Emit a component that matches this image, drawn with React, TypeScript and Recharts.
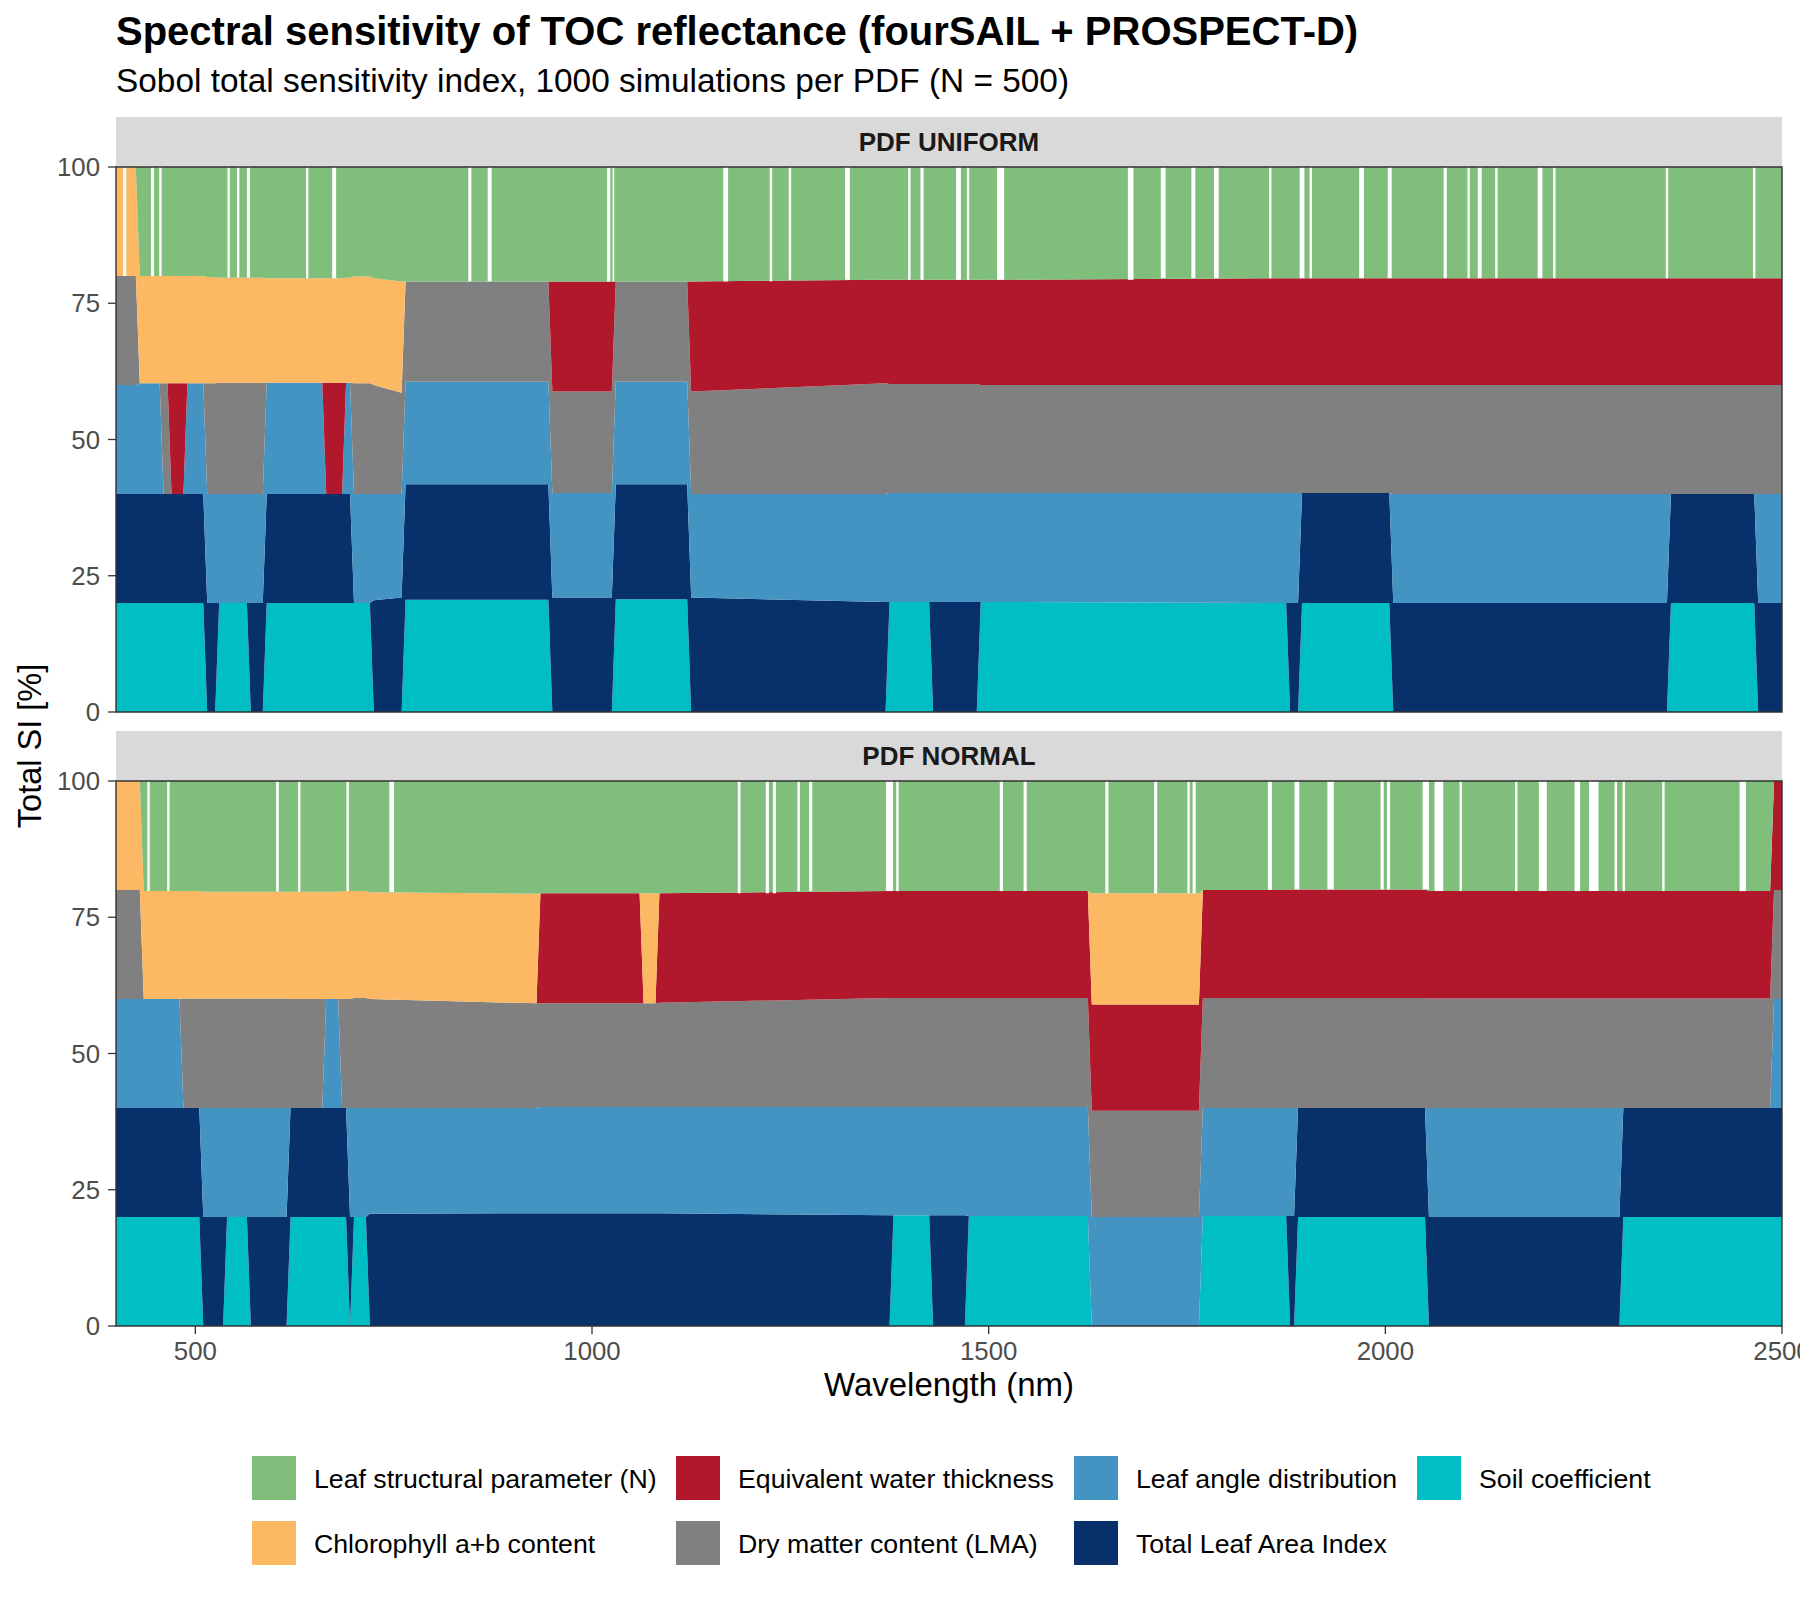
import React from 'react';
import { AreaChart, Area, XAxis, YAxis, ReferenceArea } from 'recharts';

const FONT = '"Liberation Sans", Arial, Helvetica, sans-serif';

// Parameters in stacking order (bottom -> top)
const paramKeys = ['S', 'L', 'A', 'M', 'W', 'C', 'N'];
const paramLabels: Record<string, string> = {
  N: 'Leaf structural parameter (N)',
  W: 'Equivalent water thickness',
  A: 'Leaf angle distribution',
  S: 'Soil coefficient',
  C: 'Chlorophyll a+b content',
  M: 'Dry matter content (LMA)',
  L: 'Total Leaf Area Index',
};
const paramColors: Record<string, string> = {
  N: '#7FBF7B',
  W: '#B2182B',
  A: '#4393C3',
  S: '#00BFC4',
  C: '#FDB863',
  M: '#808080',
  L: '#08306B',
};
const legendRows = [
  ['N', 'W', 'A', 'S'],
  ['C', 'M', 'L'],
];

const xTicks = [500, 1000, 1500, 2000, 2500];
const yTicks = [0, 25, 50, 75, 100];
const panelTitles = ['PDF UNIFORM', 'PDF NORMAL'];

// Each state: [start nm, end nm, five active parameters bottom->top, cumulative band tops at start, (optional) at end]
type State = [number, number, string, number[], number[]?];

const uniformStates: State[] = [
  [400, 425, 'SLAMC', [20, 40, 60, 80]],
  [430, 455, 'SLACN', [20, 40, 60.3, 80]],
  [460, 465, 'SLMCN', [20, 40, 60.3, 80]],
  [470, 485, 'SLWCN', [20, 40, 60.3, 80]],
  [490, 510, 'SLACN', [20, 40, 60.3, 80]],
  [515, 525, 'LAMCN', [20, 40, 60.3, 79.8]],
  [530, 565, 'SAMCN', [20, 40, 60.4, 79.7]],
  [570, 585, 'LAMCN', [20, 40, 60.4, 79.7]],
  [590, 660, 'SLACN', [20, 40, 60.4, 79.6]],
  [665, 685, 'SLWCN', [20, 40, 60.4, 79.6]],
  [690, 695, 'SLACN', [20, 40, 60.4, 79.7]],
  [700, 720, 'SAMCN', [20, 40, 60.3, 79.9]],
  [725, 760, 'LAMCN', [20.5, 40, 60, 79.6], [21, 40, 58.6, 79]],
  [765, 945, 'SLAMN', [20.6, 41.8, 60.6, 79]],
  [950, 1025, 'LAMWN', [21, 40.2, 58.8, 79]],
  [1030, 1120, 'SLAMN', [20.7, 41.8, 60.6, 79]],
  [1125, 1370, 'LAMWN', [21, 40, 58.8, 79], [20.2, 40, 60.3, 79.3]],
  [1375, 1425, 'SAMWN', [20.2, 40.2, 60.2, 79.3]],
  [1430, 1485, 'LAMWN', [20.2, 40.2, 60.2, 79.3]],
  [1490, 1875, 'SAMWN', [20.2, 40.2, 60, 79.3], [20, 40.2, 60, 79.6]],
  [1880, 1890, 'LAMWN', [20, 40.2, 60, 79.6]],
  [1895, 2005, 'SLMWN', [20, 40.2, 60, 79.6]],
  [2010, 2355, 'LAMWN', [20, 40, 60, 79.6]],
  [2360, 2465, 'SLMWN', [20, 40, 60, 79.6]],
  [2470, 2500, 'LAMWN', [20, 40, 60, 79.6]],
];

const normalStates: State[] = [
  [400, 430, 'SLAMC', [20, 40, 60, 80]],
  [435, 480, 'SLACN', [20, 40, 60, 79.8]],
  [485, 505, 'SLMCN', [20, 40, 60.1, 79.8]],
  [510, 535, 'LAMCN', [20, 40, 60.1, 79.7]],
  [540, 565, 'SAMCN', [20, 40, 60.1, 79.7]],
  [570, 615, 'LAMCN', [20, 40, 60.1, 79.7]],
  [620, 660, 'SLMCN', [20, 40, 60, 79.7]],
  [665, 680, 'SLACN', [20, 40, 60, 79.7]],
  [685, 690, 'SLMCN', [20, 40, 60, 79.8]],
  [695, 695, 'LAMCN', [20, 40, 60, 79.8]],
  [700, 715, 'SAMCN', [20, 40, 60.2, 79.8]],
  [720, 930, 'LAMCN', [20.6, 40, 60, 79.6], [20.7, 40, 59.2, 79.3]],
  [935, 1060, 'LAMWN', [20.7, 40.2, 59.2, 79.4]],
  [1065, 1080, 'LAMCN', [20.7, 40.2, 59.2, 79.4]],
  [1085, 1375, 'LAMWN', [20.7, 40.2, 59.3, 79.4], [20.3, 40.2, 60.2, 79.8]],
  [1380, 1425, 'SAMWN', [20.3, 40.2, 60.2, 79.8]],
  [1430, 1470, 'LAMWN', [20.3, 40.2, 60.2, 79.8]],
  [1475, 1625, 'SAMWN', [20.2, 40.2, 60.2, 79.8]],
  [1630, 1765, 'AMWCN', [20, 39.5, 59, 79.4]],
  [1770, 1875, 'SAMWN', [20.2, 40, 60.2, 80]],
  [1880, 1885, 'LAMWN', [20.2, 40, 60.2, 80.1]],
  [1890, 2050, 'SLMWN', [20, 40, 60.2, 80.1]],
  [2055, 2295, 'LAMWN', [20, 40, 60.1, 79.8]],
  [2300, 2485, 'SLMWN', [20, 40, 60.1, 79.8]],
  [2490, 2500, 'SLAMW', [20, 40, 60, 80]],
];

// White gaps in the top band: [centre nm, width nm]
const uniformGaps: [number, number][] = [
  [411, 4], [446, 4], [456, 3], [542, 3], [554, 3], [567, 4], [641, 3], [675, 5],
  [846, 4], [871, 5], [1021, 4], [1027, 2], [1168.5, 6], [1225.5, 3], [1249.5, 3],
  [1322, 6], [1400, 3], [1416, 4], [1462, 6], [1474, 3], [1515, 9], [1679, 7],
  [1720, 6], [1758, 5], [1787, 6], [1855, 3], [1895, 6], [1906, 3], [1970, 6],
  [2005.5, 5], [2075.5, 4], [2105, 3], [2119, 5], [2140, 3], [2195, 6], [2213, 3],
  [2355, 3], [2465, 3],
];

const normalGaps: [number, number][] = [
  [441, 3], [466, 3], [603.5, 3.5], [631, 3], [692, 3], [747.5, 6], [1185.5, 3.5],
  [1221, 4], [1230, 4], [1260.5, 3], [1275.7, 4], [1375, 9], [1385, 3], [1516, 4],
  [1546, 4], [1649, 4], [1710.5, 4], [1752, 3], [1759, 4], [1854.5, 5], [1888.5, 6],
  [1931, 8], [1996, 4], [2004, 4], [2051, 8], [2067.5, 11], [2095, 3], [2165, 3],
  [2198.5, 10], [2242, 7], [2262.7, 12], [2290.5, 3], [2300.5, 3], [2350.5, 3],
  [2450.5, 8],
];

function makeRow(wl: number, code: string, lv: number[]) {
  const row: Record<string, number> = { wl };
  paramKeys.forEach((k) => (row[k] = 0));
  const tops = [...lv, 100];
  let prev = 0;
  code.split('').forEach((k, i) => {
    row[k] = +(tops[i] - prev).toFixed(3);
    prev = tops[i];
  });
  return row;
}

function buildRows(states: State[]) {
  const rows: Record<string, number>[] = [];
  states.forEach(([s, e, code, lv, lv2]) => {
    rows.push(makeRow(s, code, lv));
    if (e !== s) rows.push(makeRow(e, code, lv2 ?? lv));
  });
  return rows;
}

function gapBase(states: State[], g: number) {
  let best = 80;
  let bestD = Infinity;
  states.forEach(([s, e, , lv, lv2]) => {
    const d = g < s ? s - g : g > e ? g - e : 0;
    if (d < bestD) {
      bestD = d;
      const useEnd = !!lv2 && g - s > e - g;
      best = (useEnd ? (lv2 as number[]) : lv)[3];
    }
  });
  return best;
}

const tickStyle = { fill: '#4D4D4D', fontSize: 25.8, fontFamily: FONT };
const tickLineStyle = { stroke: '#333333', strokeWidth: 1.3 };

function Panel({
  states,
  gaps,
  showX,
  height,
  marginTop,
  marginBottom,
}: {
  states: State[];
  gaps: [number, number][];
  showX: boolean;
  height: number;
  marginTop: number;
  marginBottom: number;
}) {
  const rows = buildRows(states);
  return (
    <AreaChart
      width={1800}
      height={height}
      data={rows}
      margin={{ top: marginTop, right: 18, bottom: marginBottom, left: 16 }}
    >
      <XAxis
        dataKey="wl"
        type="number"
        domain={[400, 2500]}
        ticks={xTicks}
        interval={0}
        allowDataOverflow
        hide={!showX}
        height={60}
        tick={tickStyle}
        tickLine={tickLineStyle}
        tickSize={8}
        tickMargin={8}
        axisLine={false}
      />
      <YAxis
        type="number"
        domain={[0, 100]}
        ticks={yTicks}
        interval={0}
        allowDataOverflow
        width={100}
        tick={tickStyle}
        tickLine={tickLineStyle}
        tickSize={8}
        tickMargin={8}
        axisLine={false}
      />
      {paramKeys.map((k) => (
        <Area
          key={k}
          dataKey={k}
          name={paramLabels[k]}
          stackId="si"
          type="linear"
          fill={paramColors[k]}
          fillOpacity={1}
          stroke="none"
          strokeWidth={0}
          dot={false}
          activeDot={false}
          isAnimationActive={false}
        />
      ))}
      {gaps.map(([g, w], i) => (
        <ReferenceArea
          key={'gap' + i}
          x1={g - w / 2}
          x2={g + w / 2}
          y1={gapBase(states, g)}
          y2={100}
          fill="#FFFFFF"
          fillOpacity={1}
          stroke="none"
          ifOverflow="visible"
          zIndex={1500}
        />
      ))}
      <ReferenceArea
        x1={400}
        x2={2500}
        y1={0}
        y2={100}
        fill="none"
        fillOpacity={0}
        stroke="#333333"
        strokeWidth={1.4}
        ifOverflow="visible"
        zIndex={1600}
      />
    </AreaChart>
  );
}

const legendColX = [252, 676, 1074, 1417];
const legendRowY = [1456, 1521];

export default function App() {
  return (
    <div
      style={{
        position: 'absolute',
        left: 0,
        top: 0,
        width: 1800,
        height: 1600,
        overflow: 'hidden',
        background: '#FFFFFF',
        fontFamily: FONT,
      }}
    >
      <svg width={1800} height={1600} style={{ position: 'absolute', left: 0, top: 0 }}>
        <text x={116} y={45} fontSize={40} fontWeight="bold" fontFamily={FONT} fill="#000000">
          Spectral sensitivity of TOC reflectance (fourSAIL + PROSPECT-D)
        </text>
        <text x={116} y={92} fontSize={33.4} fontFamily={FONT} fill="#000000">
          Sobol total sensitivity index, 1000 simulations per PDF (N = 500)
        </text>
        <rect x={116} y={117} width={1666} height={50} fill="#D9D9D9" />
        <text x={949} y={151} textAnchor="middle" fontSize={26} fontWeight="bold" fontFamily={FONT} fill="#1A1A1A">
          {panelTitles[0]}
        </text>
        <rect x={116} y={731} width={1666} height={50} fill="#D9D9D9" />
        <text x={949} y={765} textAnchor="middle" fontSize={26} fontWeight="bold" fontFamily={FONT} fill="#1A1A1A">
          {panelTitles[1]}
        </text>
        <text
          x={41}
          y={746}
          transform="rotate(-90 41 746)"
          textAnchor="middle"
          fontSize={32.5}
          fontFamily={FONT}
          fill="#000000"
        >
          Total SI [%]
        </text>
        <text x={949} y={1396} textAnchor="middle" fontSize={33} fontFamily={FONT} fill="#000000">
          Wavelength (nm)
        </text>
        {legendRows.map((row, r) =>
          row.map((k, c) => (
            <g key={k}>
              <rect x={legendColX[c]} y={legendRowY[r]} width={44} height={44} fill={paramColors[k]} />
              <text
                x={legendColX[c] + 62}
                y={legendRowY[r] + 32}
                fontSize={26.7}
                fontFamily={FONT}
                fill="#000000"
              >
                {paramLabels[k]}
              </text>
            </g>
          ))
        )}
      </svg>
      <div style={{ position: 'absolute', left: 0, top: 0 }}>
        <Panel states={uniformStates} gaps={uniformGaps} showX={false} height={730} marginTop={167} marginBottom={18} />
      </div>
      <div style={{ position: 'absolute', left: 0, top: 730 }}>
        <Panel states={normalStates} gaps={normalGaps} showX={true} height={670} marginTop={51} marginBottom={14} />
      </div>
    </div>
  );
}
